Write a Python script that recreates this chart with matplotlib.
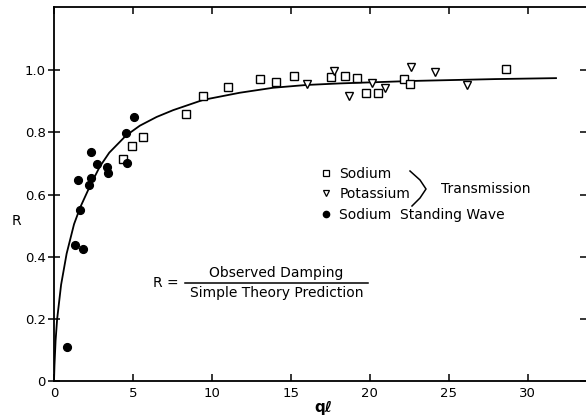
import matplotlib
matplotlib.use("Agg")
import matplotlib.pyplot as plt
from matplotlib.lines import Line2D

# Sodium standing wave (dolu daireler)
standing_x = [0.8, 1.33, 1.5, 1.65, 1.85, 2.24, 2.34, 2.34, 2.7, 3.33, 3.44, 4.56, 4.6, 5.08]
standing_y = [0.109, 0.438, 0.648, 0.549, 0.426, 0.63, 0.654, 0.736, 0.70, 0.688, 0.668, 0.799, 0.703, 0.849]

# Sodium transmission (kareler)
sodium_x = [4.35, 4.92, 5.61, 8.35, 9.45, 11.03, 13.04, 14.09, 15.19, 17.53, 18.44,
            19.18, 19.75, 20.55, 22.17, 22.57, 28.63]
sodium_y = [0.715, 0.755, 0.787, 0.860, 0.916, 0.945, 0.973, 0.963, 0.982, 0.979, 0.982,
            0.976, 0.926, 0.926, 0.971, 0.955, 1.006]

# Potassium transmission (ters üçgenler)
potassium_x = [16.03, 17.74, 18.69, 20.13, 20.97, 22.59, 24.11, 26.16]
potassium_y = [0.956, 0.997, 0.917, 0.960, 0.944, 1.011, 0.995, 0.953]

# teori eğrisi (resimden okunan noktalar)
curve_x = [0, 0.03, 0.1, 0.2, 0.45, 0.8, 1.27, 1.67, 2.3, 2.9, 3.5, 4.56, 5.44, 6.5, 7.55,
           9.45, 11.77, 13.88, 15.99, 18.1, 22.74, 28.0, 31.8]
curve_y = [0, 0.05, 0.13, 0.2, 0.31, 0.41, 0.505, 0.56, 0.63, 0.69, 0.735, 0.79, 0.822, 0.85,
           0.872, 0.905, 0.928, 0.944, 0.953, 0.958, 0.966, 0.972, 0.975]

x_ticks = [0, 5, 10, 15, 20, 25, 30]
y_ticks = [0, 0.2, 0.4, 0.6, 0.8, 1.0]
y_tick_labels = ["0", "0.2", "0.4", "0.6", "0.8", "1.0"]


def main():
    plt.rcParams["font.family"] = ["DejaVu Sans"]
    plt.rcParams["font.size"] = 9.5

    fig = plt.figure(figsize=(5.86, 4.18), dpi=100)
    ax = fig.add_axes([54 / 586, 37 / 418, 532 / 586, 374 / 418])

    ax.plot(curve_x, curve_y, color="black", lw=1.3)
    ax.plot(sodium_x, sodium_y, ls="none", marker="s", ms=5.5, mfc="white",
            mec="black", mew=1.0)
    ax.plot(potassium_x, potassium_y, ls="none", marker="v", ms=5.5, mfc="white",
            mec="black", mew=1.0)
    ax.plot(standing_x, standing_y, ls="none", marker="o", ms=5.6, color="black")

    ax.set_xlim(0, 33.7)
    ax.set_ylim(0, 1.204)
    ax.set_xticks(x_ticks)
    ax.set_yticks(y_ticks)
    ax.set_yticklabels(y_tick_labels)

    for s in ["left", "bottom", "top"]:
        ax.spines[s].set_linewidth(1.3)
    ax.spines["right"].set_visible(False)

    ax.tick_params(axis="y", which="both", direction="inout", length=8, width=1.1,
                   pad=2, right=True, labelsize=9.5)
    ax.tick_params(axis="x", which="both", direction="in", length=5, width=1.1,
                   pad=4, top=True, labelsize=9.5)

    ax.set_xlabel("qℓ", fontsize=11, fontweight="bold")
    ax.xaxis.set_label_coords(0.506, -0.052)
    ax.set_ylabel("R", rotation=0, fontsize=10)
    ax.yaxis.set_label_coords(-0.07, 0.41)

    # lejant
    handles = [
        Line2D([], [], ls="none", marker="s", ms=4, mfc="white", mec="black", mew=0.9),
        Line2D([], [], ls="none", marker="v", ms=4, mfc="white", mec="black", mew=0.9),
        Line2D([], [], ls="none", marker="o", ms=4.5, color="black"),
    ]
    labels = ["Sodium", "Potassium", "Sodium  Standing Wave"]
    ax.legend(handles, labels, loc="upper left", bbox_to_anchor=(0.5, 0.572),
              frameon=False, borderpad=0, borderaxespad=0, handlelength=0.8,
              handletextpad=0.6, labelspacing=0.45, fontsize=10)

    # süslü parantez ve Transmission
    bx = [(410 - 54) / 532, (420 - 54) / 532, (426 - 54) / 532, (420 - 54) / 532, (412 - 54) / 532]
    by = [(381 - 171) / 374, (381 - 180) / 374, (381 - 189) / 374, (381 - 198) / 374, (381 - 206) / 374]
    ax.plot(bx, by, color="black", lw=1.1, transform=ax.transAxes)
    ax.text((441 - 54) / 532, (381 - 189) / 374, "Transmission", transform=ax.transAxes,
            ha="left", va="center", fontsize=10)

    # R tanımı
    frac_y = (381 - 283) / 374
    ax.text((166 - 54) / 532, frac_y, "R =", transform=ax.transAxes,
            ha="center", va="center", fontsize=10)
    ax.plot([(185 - 54) / 532, (368 - 54) / 532], [frac_y, frac_y], color="black",
            lw=1.1, transform=ax.transAxes)
    cx = (276.5 - 54) / 532
    ax.text(cx, frac_y + 0.008, "Observed Damping", transform=ax.transAxes,
            ha="center", va="bottom", fontsize=10)
    ax.text(cx, frac_y - 0.008, "Simple Theory Prediction", transform=ax.transAxes,
            ha="center", va="top", fontsize=10)

    fig.savefig("out.png", dpi=100)


if __name__ == "__main__":
    main()
